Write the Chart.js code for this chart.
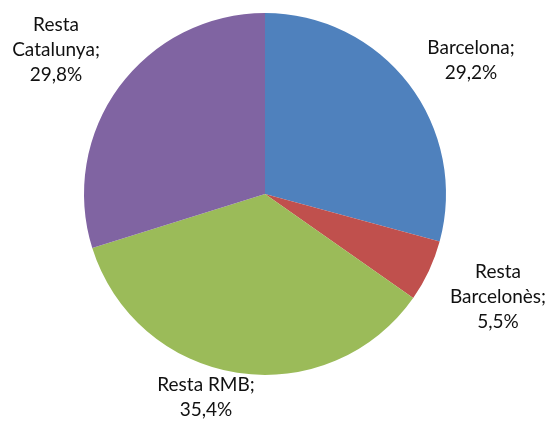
<!DOCTYPE html>
<html>
<head>
<meta charset="utf-8">
<script src="https://cdn.jsdelivr.net/npm/chart.js@4.4.1/dist/chart.umd.min.js"></script>
<style>
  html, body { margin: 0; padding: 0; background: #fff; }
  #wrap { width: 558px; height: 421px; }
</style>
</head>
<body>
<div id="wrap"><canvas id="pieChart" width="558" height="421"></canvas></div>
<script>
// ---- data ----
const categories = ["Barcelona", "Resta Barcelonès", "Resta RMB", "Resta Catalunya"];
const shares = [29.2, 5.5, 35.4, 29.8];
const sliceColors = ["#4F81BD", "#C0504D", "#9BBB59", "#8064A2"];
// how each label is broken into lines
const labelLines = [
  ["Barcelona;"],
  ["Resta", "Barcelonès;"],
  ["Resta RMB;"],
  ["Resta", "Catalunya;"]
];

// label block centres, relative to the pie centre
const labelOffsets = [[206, -134], [233, 103], [-59, 203], [-209, -144]];

const fmt = v => v.toFixed(1).replace(".", ",") + "%";

// draws the "name; value" labels outside the slices
const outsideLabels = {
  id: "outsideLabels",
  afterDraw(chart) {
    const ctx = chart.ctx;
    const arcs = chart.getDatasetMeta(0).data;
    const lineH = 25;
    ctx.save();
    ctx.font = "19px Lato";
    ctx.fillStyle = "#111";
    ctx.textAlign = "center";
    ctx.textBaseline = "middle";
    arcs.forEach((arc, i) => {
      const lines = labelLines[i].concat([fmt(shares[i])]);
      const cx = arc.x + labelOffsets[i][0];
      const cy = arc.y + labelOffsets[i][1];
      const top = cy - (lines.length - 1) * lineH / 2;
      lines.forEach((t, k) => ctx.fillText(t, cx, top + k * lineH));
    });
    ctx.restore();
  }
};

new Chart(document.getElementById("pieChart"), {
  type: "pie",
  data: {
    labels: categories,
    datasets: [{
      data: shares,
      backgroundColor: sliceColors,
      borderWidth: 0
    }]
  },
  options: {
    responsive: false,
    animation: false,
    layout: { padding: { top: 13, bottom: 46, left: 84, right: 112 } },
    plugins: {
      legend: { display: false },
      tooltip: { enabled: false }
    }
  },
  plugins: [outsideLabels]
});
</script>
</body>
</html>
